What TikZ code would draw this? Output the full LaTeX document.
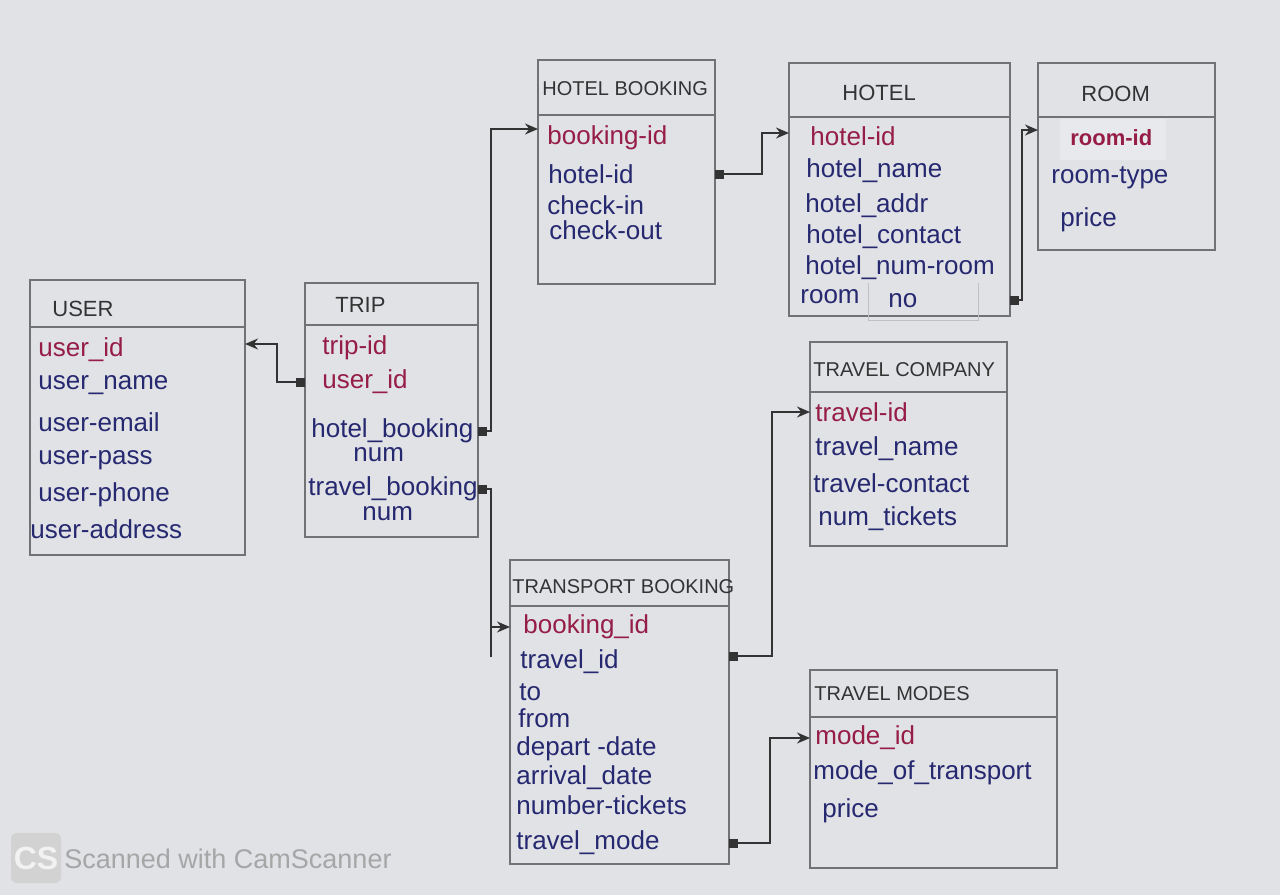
\documentclass[tikz,border=0pt]{standalone}
\usepackage{fontspec}
\setmainfont{Liberation Sans}
\usetikzlibrary{arrows.meta}
\definecolor{paper}{RGB}{224,226,230}
\definecolor{keyred}{RGB}{150,30,70}
\definecolor{ink}{RGB}{38,40,112}
\definecolor{pencil}{RGB}{112,114,118}
\tikzset{
  entity/.style={draw=pencil, line width=0.6pt, outer sep=0pt, inner sep=0pt, anchor=north west},
  divider/.style={draw=pencil, line width=0.6pt},
  hdr/.style={anchor=west, inner sep=0pt, text=black!80, font=\fontsize{10}{12}\selectfont},
  attr/.style={anchor=west, inner sep=0pt, text=ink, font=\fontsize{13}{15}\selectfont},
  pkey/.style={attr, text=keyred},
  rel/.style={draw=black!80, line width=0.9pt, {Square[length=4.5pt,width=4.5pt]}-{Stealth[length=6.5pt,width=5.5pt]}},
  tail/.style={draw=black!80, line width=0.9pt}
}
\begin{document}
\begin{tikzpicture}[x=0.5pt,y=-0.5pt]
\fill[paper] (0,0) rectangle (1280,895);
\useasboundingbox (0,0) rectangle (1280,895);

\node (user) at (30,280) [entity, minimum width=107.5pt, minimum height=137.5pt] {};
\draw[divider] (user.west |- 0,327) -- (user.east |- 0,327);
\node (userT) at (52,309) [hdr, font=\fontsize{11}{13}\selectfont] {USER};
\node (u0) at (38,350) [pkey] {user\_id};
\node (u1) at (38,385) [attr] {user\_name};
\node (u2) at (38,422) [attr] {user-email};
\node (u3) at (38,460) [attr] {user-pass};
\node (u4) at (38,495) [attr] {user-phone};
\node (u5) at (30,529) [attr] {user-address};

\node (trip) at (305,283) [entity, minimum width=86.5pt, minimum height=127pt] {};
\draw[divider] (trip.west |- 0,325) -- (trip.east |- 0,325);
\node (tripT) at (335,305) [hdr, font=\fontsize{11}{13}\selectfont] {TRIP};
\node (t0) at (322,348) [pkey] {trip-id};
\node (t1) at (322,382) [pkey] {user\_id};
\node (t2) at (311,431) [attr] {hotel\_booking};
\node (t3) at (353,455) [attr] {num};
\node (t4) at (308,489) [attr] {travel\_booking};
\node (t5) at (362,514) [attr] {num};

\node (hb) at (538,60) [entity, minimum width=88.5pt, minimum height=112pt] {};
\draw[divider] (hb.west |- 0,115) -- (hb.east |- 0,115);
\node (hbT) at (542,89) [hdr] {HOTEL BOOKING};
\node (h0) at (547,138) [pkey] {booking-id};
\node (h1) at (548,174) [attr] {hotel-id};
\node (h2) at (547,205) [attr] {check-in};
\node (h3) at (549,230) [attr] {check-out};

\node (hotel) at (789,63) [entity, minimum width=110.5pt, minimum height=126.5pt] {};
\draw[divider] (hotel.west |- 0,117) -- (hotel.east |- 0,117);
\node (hotelT) at (842,93) [hdr, font=\fontsize{11}{13}\selectfont] {HOTEL};
\node (o0) at (810,136) [pkey] {hotel-id};
\node (o1) at (806,171) [attr] {hotel\_name};
\node (o2) at (805,206) [attr] {hotel\_addr};
\node (o3) at (806,237) [attr] {hotel\_contact};
\node (o4) at (805,268) [attr] {hotel\_num-room};
\node (o5) at (800,297) [attr] {room};
\node (o6) at (888,301) [attr] {no};
\draw[draw=pencil!30!paper, line width=0.5pt] (868,283) -- (868,320) -- (978,320) -- (978,283);

\node (room) at (1038,63) [entity, minimum width=88.5pt, minimum height=93.5pt] {};
\draw[divider] (room.west |- 0,117) -- (room.east |- 0,117);
\fill[white!25!paper] (1060,119) rectangle (1166,160);
\node (roomT) at (1081,94) [hdr, font=\fontsize{11}{13}\selectfont] {ROOM};
\node (r0) at (1070,138) [pkey, font=\bfseries\fontsize{11}{13}\selectfont] {room-id};
\node (r1) at (1051,178) [attr] {room-type};
\node (r2) at (1060,220) [attr] {price};

\node (tc) at (810,342) [entity, minimum width=98.5pt, minimum height=102pt] {};
\draw[divider] (tc.west |- 0,392) -- (tc.east |- 0,392);
\node (tcT) at (813,370) [hdr] {TRAVEL COMPANY};
\node (c0) at (815,412) [pkey] {travel-id};
\node (c1) at (815,449) [attr] {travel\_name};
\node (c2) at (813,483) [attr] {travel-contact};
\node (c3) at (818,519) [attr] {num\_tickets};

\node (tb) at (510,560) [entity, minimum width=109.5pt, minimum height=152pt] {};
\draw[divider] (tb.west |- 0,606) -- (tb.east |- 0,606);
\node (tbT) at (512,587) [hdr] {TRANSPORT BOOKING};
\node (b0) at (523,627) [pkey] {booking\_id};
\node (b1) at (520,662) [attr] {travel\_id};
\node (b2) at (519,692) [attr] {to};
\node (b3) at (518,718) [attr] {from};
\node (b4) at (516,749) [attr] {depart -date};
\node (b5) at (516,778) [attr] {arrival\_date};
\node (b6) at (516,805) [attr] {number-tickets};
\node (b7) at (516,843) [attr] {travel\_mode};

\node (tm) at (810,670) [entity, minimum width=123.5pt, minimum height=99pt] {};
\draw[divider] (tm.west |- 0,717) -- (tm.east |- 0,717);
\node (tmT) at (814,694) [hdr] {TRAVEL MODES};
\node (m0) at (815,738) [pkey] {mode\_id};
\node (m1) at (813,773) [attr] {mode\_of\_transport};
\node (m2) at (822,811) [attr] {price};

\draw[rel] (trip.west |- t1) -- ++(-28,0) |- (user.east |- 0,344);
\draw[rel] (trip.east |- t2) -- ++(13,0) |- (hb.west |- 0,129);
\draw[rel] (trip.east |- t4) -- ++(13,0) |- (tb.west |- b0);
\draw[tail] ([xshift=-9.5pt]tb.west |- b0) -- ++(0,30);
\draw[rel] (hb.east |- h1) -- ++(47,0) |- (hotel.west |- 0,133);
\draw[rel] (hotel.east |- 0,300) -- ++(12,0) |- (room.west |- 0,130);
\draw[rel] (tb.east |- 0,656) -- ++(43,0) |- (tc.west |- c0);
\draw[rel] (tb.east |- b7) -- ++(41,0) |- (tm.west |- m0);

\node (cs) at (36,858) [fill=gray!35, rounded corners=3pt, minimum size=25pt, inner sep=0pt, text=white!90!gray, font=\bfseries\fontsize{16}{16}\selectfont] {CS};
\node (scan) at (64,859) [anchor=west, inner sep=0pt, text=gray!70, font=\fontsize{13.5}{16}\selectfont] {Scanned with CamScanner};
\end{tikzpicture}
\end{document}
